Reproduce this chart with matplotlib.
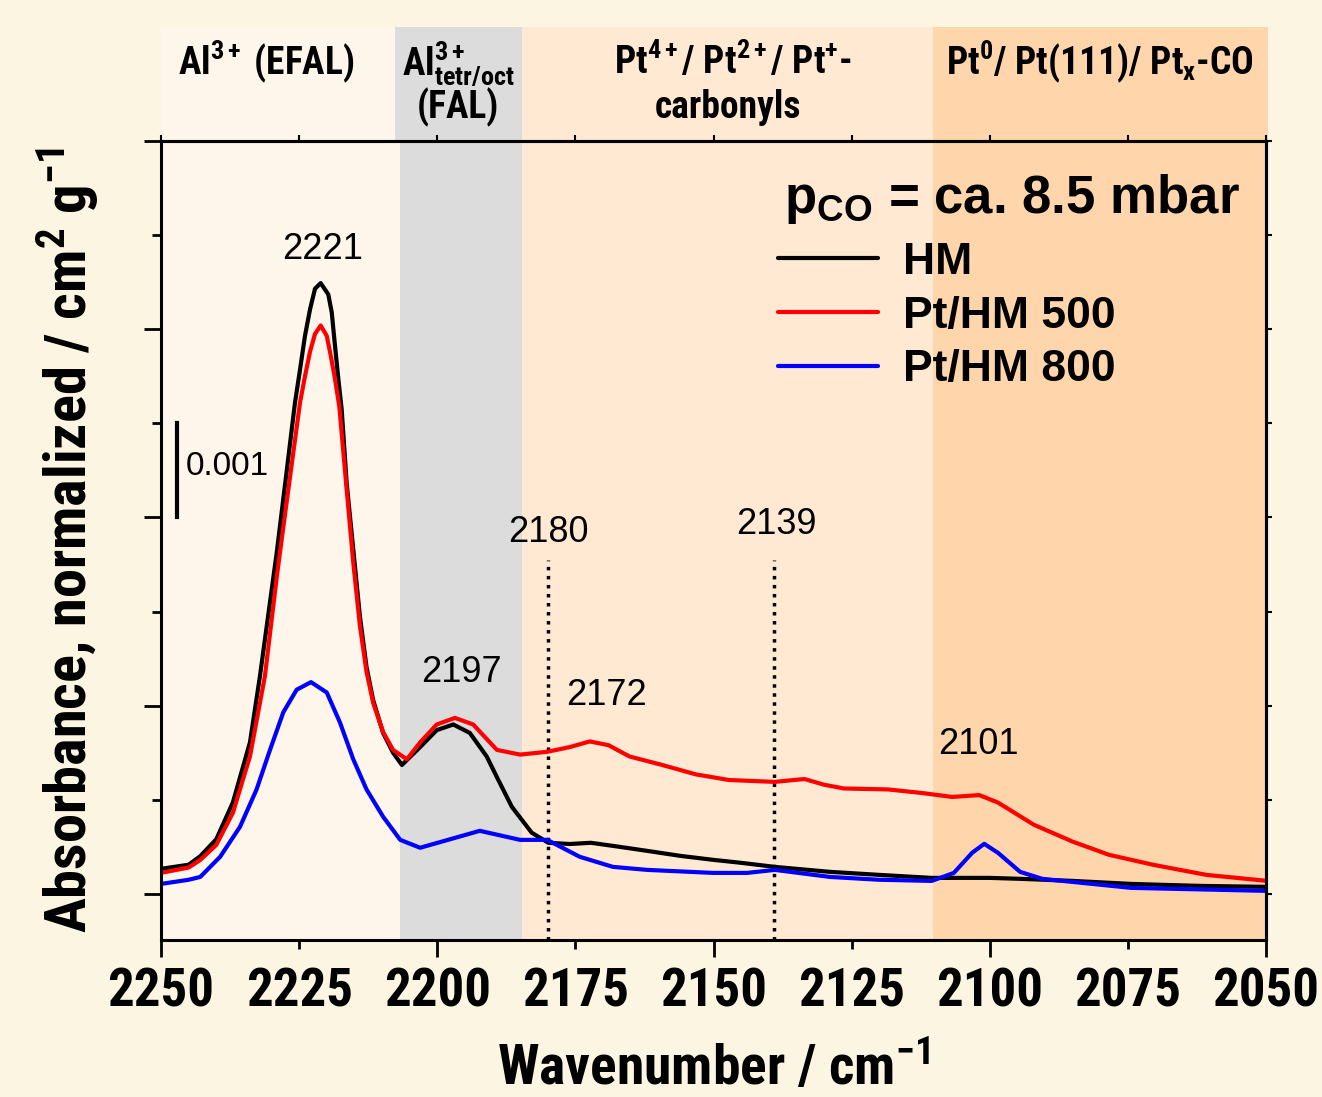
import matplotlib
matplotlib.use('Agg')
import matplotlib.pyplot as plt
import matplotlib.transforms as mtrans
from matplotlib.patches import Rectangle
from matplotlib.font_manager import FontProperties, fontManager

REG = 'Liberation Sans'
_prefs = ['Liberation Sans Narrow', 'Arial Narrow', 'Nimbus Sans Narrow', 'Roboto Condensed',
          'Archivo Narrow', 'PT Sans Narrow', 'Open Sans Condensed', 'Barlow Semi Condensed',
          'Asap Condensed']
NARROW = REG
for _p in _prefs:
    if any(f.name == _p and (f.weight in ('bold', 700) or (isinstance(f.weight, int) and f.weight >= 700))
           for f in fontManager.ttflist):
        NARROW = _p
        break

plt.rcParams['mathtext.fontset'] = 'custom'
plt.rcParams['mathtext.rm'] = NARROW + ':bold'
plt.rcParams['mathtext.it'] = NARROW + ':bold'
plt.rcParams['mathtext.bf'] = NARROW + ':bold'
plt.rcParams['mathtext.sf'] = REG + ':bold'

# ---------------- data ----------------
hm_wn = [2250, 2245, 2242.9, 2240, 2237.0, 2233.9, 2232.1, 2229.0, 2227.4, 2225.75, 2224.84,
         2223.94, 2223.03, 2222.13, 2221.1, 2219.72, 2219.1, 2218.5, 2217.9, 2217.3, 2216.4,
         2215.2, 2214.0, 2212.8, 2211.6, 2209.8, 2208.0, 2206.4, 2203.1, 2200.1, 2197.1, 2194.1,
         2191.05, 2189.2, 2186.5, 2182.9, 2179.9, 2176, 2172.2, 2167, 2162.0, 2156,
         2150.1, 2145, 2138.9, 2128.9, 2120, 2110.5, 2100, 2094.5, 2085, 2074.4, 2062, 2049.8]
hm_abs = [0.000266, 0.00031, 0.00040, 0.00058, 0.00097, 0.00161, 0.00231, 0.00365, 0.00442,
          0.00522, 0.00557, 0.00593, 0.00621, 0.00643, 0.00649, 0.00637, 0.00618, 0.00582,
          0.00547, 0.00515, 0.00437, 0.00366, 0.00295, 0.00241, 0.00206, 0.00171, 0.00150,
          0.00137, 0.00156, 0.00174, 0.00180, 0.00171, 0.00146, 0.00124, 0.000925, 0.00065,
          0.000543, 0.00053, 0.000543, 0.00050, 0.000457, 0.000404, 0.000362, 0.00033, 0.000287,
          0.000234, 0.000202, 0.00017, 0.00017, 0.00016, 0.000138, 0.000106, 0.000085, 0.0000745]

pt500_wn = [2250, 2245, 2242.9, 2240, 2237.0, 2233.9, 2231.2, 2229.0, 2227.4, 2224.84, 2223.94,
            2223.03, 2222.13, 2221.1, 2220.0, 2219.28, 2218.5, 2217.73, 2216.4, 2215.2, 2214.0,
            2212.8, 2211.6, 2209.8, 2208.0, 2205.5, 2203.1, 2200.1, 2196.8, 2193.5, 2189.2,
            2185.0, 2180.1, 2176, 2172.4, 2169, 2165.2, 2159.3, 2153.2, 2147.2, 2138.9,
            2135.5, 2133.5, 2130, 2126.4, 2118.4, 2112, 2106.8, 2101.9, 2098.5, 2092.0, 2084.9,
            2078.4, 2070.4, 2060.8, 2049.8]
pt500_abs = [0.000223, 0.00028, 0.00036, 0.00052, 0.00086, 0.00146, 0.00231, 0.00339, 0.00410,
             0.00522, 0.00550, 0.00576, 0.00595, 0.00604, 0.00593, 0.00572, 0.00547, 0.00518,
             0.00430, 0.00352, 0.00285, 0.00236, 0.00203, 0.00172, 0.00153, 0.00143, 0.00161,
             0.00180, 0.00187, 0.00180, 0.00153, 0.00148, 0.00151, 0.00156, 0.00162, 0.00158,
             0.00146, 0.00137, 0.00127, 0.00121, 0.00119, 0.00121, 0.00122, 0.00116, 0.00112,
             0.00111, 0.00107, 0.00103, 0.00105, 0.00097, 0.000734, 0.000553, 0.000415,
             0.000309, 0.000202, 0.000138]

pt800_wn = [2250, 2245, 2242.9, 2239.3, 2235.7, 2232.7, 2230.27, 2227.86, 2225.44, 2222.85,
            2220.0, 2217.6, 2215.2, 2212.8, 2209.8, 2206.7, 2203.1, 2199.5, 2192.3, 2185.0,
            2180.1, 2174.2, 2168.2, 2162.0, 2150.1, 2143.9, 2138.9, 2128.9, 2120, 2110.5,
            2106.5, 2103.2, 2101.0, 2098.5, 2094.5, 2090.5, 2074.4, 2049.8]
pt800_abs = [0.000106, 0.00015, 0.00018, 0.000394, 0.000713, 0.00111, 0.00153, 0.00193, 0.00217,
             0.00225, 0.00214, 0.00182, 0.00143, 0.00111, 0.00082, 0.000574, 0.00049, 0.00055,
             0.00067, 0.000574, 0.000574, 0.000394, 0.000287, 0.000255, 0.000223, 0.000223,
             0.000255, 0.00018, 0.00015, 0.000138, 0.000223, 0.000436, 0.000532, 0.000436,
             0.000234, 0.00016, 0.0000638, 0.000032]

series_labels = ['HM', 'Pt/HM 500', 'Pt/HM 800']
series_colors = ['#000000', '#FF0000', '#0000FF']

band_edges = [2250, 2206.7, 2184.7, 2110.3, 2050]
header_edges = [2250, 2207.6, 2184.7, 2110.3, 2049.6]
band_colors = ['#FEF5EB', '#DCDCDC', '#FFE9D3', '#FFD6AB']

peak_labels = ['2221', '2197', '2180', '2172', '2139', '2101']
peak_pos = [(2220.7, 0.00685), (2195.7, 0.00235), (2179.8, 0.00384),
            (2169.3, 0.00211), (2138.7, 0.00393), (2102.0, 0.00159)]
dotted_wn = [2180, 2139]

xmaj = [2250, 2200, 2150, 2100, 2050]
xmin_ = [2225, 2175, 2125, 2075]

# ---------------- figure ----------------
BG = '#FCF5E2'
fig = plt.figure(figsize=(13.22, 10.97), dpi=100, facecolor=BG)
ax = fig.add_axes([161 / 1322, 1 - 940 / 1097, 1105 / 1322, 799 / 1097])
ax.set_facecolor(BG)
ax.set_xlim(2250, 2050)
ax.set_ylim(-0.00049, 0.008)

for i, c in enumerate(band_colors):
    ax.axvspan(band_edges[i + 1], band_edges[i], color=c, lw=0, zorder=0)

trans = mtrans.blended_transform_factory(ax.transData, ax.transAxes)
for i, c in enumerate(band_colors):
    x0, x1 = header_edges[i + 1], header_edges[i]
    ax.add_patch(Rectangle((x0, 1.0), x1 - x0, 0.1427, transform=trans, clip_on=False,
                           facecolor=c, edgecolor='none', zorder=0))

hfont = dict(family=NARROW, weight='bold', size=27, ha='center', va='center',
             transform=trans, clip_on=False)
ax.text(2231, 1.099, 'Al$^{3+}$ (EFAL)', **hfont)
ax.text(2196.2, 1.096, 'Al$^{3+}_{tetr/oct}$', **hfont)
ax.text(2196.2, 1.0425, '(FAL)', **hfont)
ax.text(2146.5, 1.099, 'Pt$^{4+}$/ Pt$^{2+}$/ Pt$^{+}$-', **hfont)
ax.text(2147.3, 1.0425, 'carbonyls', **hfont)
ax.text(2080, 1.099, 'Pt$^{0}$/ Pt(111)/ Pt$_{x}$-CO', **hfont)

ax.vlines(dotted_wn, -0.00049, 0.00355, colors='black', lw=2.5,
          linestyles=(0, (1, 1.6)), zorder=2)

lines = []
for wn, ab, lab, col in zip([hm_wn, pt500_wn, pt800_wn], [hm_abs, pt500_abs, pt800_abs],
                            series_labels, series_colors):
    ln, = ax.plot(wn, ab, color=col, lw=3.0, label=lab, zorder=3,
                  solid_joinstyle='round', solid_capstyle='round')
    lines.append(ln)

for t, (x, y) in zip(peak_labels, peak_pos):
    ax.text(x, y, t, family=REG, size=26, ha='center', va='center', zorder=4)

# scale bar
ax.plot([2247.1, 2247.1], [0.004, 0.005], color='black', lw=3.0, zorder=4)
ax.text(2245.6, 0.00454, '0.001', family=REG, size=24, ha='left', va='center')

# legend title and entries
ax.text(2054.7, 0.00724, 'p$_{\\mathsf{CO}}$ = ca. 8.5 mbar', family=REG, weight='bold',
        size=38, ha='right', va='baseline', zorder=4)
leg = ax.legend(handles=lines, labels=series_labels, loc='upper left',
                bbox_to_anchor=(0.5584, 0.874), frameon=False,
                prop=FontProperties(family=REG, weight='bold', size=32),
                handlelength=2.25, handletextpad=0.56,
                labelspacing=0.29, borderpad=0, borderaxespad=0)

# ticks
ax.set_xticks(xmaj, [str(v) for v in xmaj])
ax.set_xticks(xmin_, [str(v) for v in xmin_], minor=True)
ax.set_yticks([0, 0.002, 0.004, 0.006, 0.008], [])
ax.set_yticks([0.001, 0.003, 0.005, 0.007], [], minor=True)
ax.tick_params(axis='both', which='major', direction='out', length=12, width=2.0, labelsize=38)
ax.tick_params(axis='both', which='minor', direction='out', length=6.5, width=2.0, labelsize=38)
ax.tick_params(axis='x', which='major', pad=7)
ax.tick_params(axis='x', which='minor', pad=7 + 5.5)
for lab in ax.get_xticklabels() + ax.get_xticklabels(minor=True):
    lab.set_fontfamily(NARROW)
    lab.set_fontweight('bold')

top = ax.secondary_xaxis('top')
top.set_xticks(xmaj + xmin_, [])
top.tick_params(direction='out', length=4, width=1.5)
right = ax.secondary_yaxis('right')
right.set_yticks([0, 0.001, 0.002, 0.003, 0.004, 0.005, 0.006, 0.007, 0.008], [])
right.tick_params(direction='out', length=4, width=1.5)
for a in (top, right):
    for s in a.spines.values():
        s.set_linewidth(2.2)

for s in ax.spines.values():
    s.set_linewidth(2.2)
    s.set_zorder(5)

ax.set_xlabel('Wavenumber / cm$^{-1}$', family=NARROW, weight='bold', size=40, labelpad=17)
ax.set_ylabel('Absorbance, normalized / cm$^{2}$ g$^{-1}$', family=NARROW, weight='bold',
              size=42, labelpad=28)

fig.savefig('out.png', dpi=100, facecolor=BG)
